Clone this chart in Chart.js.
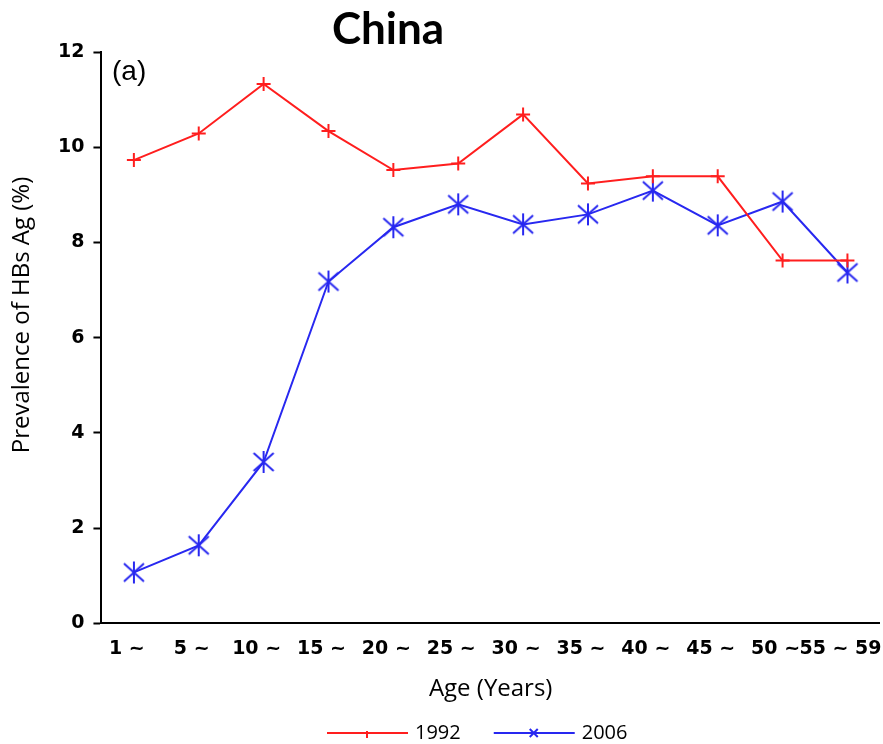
<!DOCTYPE html>
<html>
<head>
<meta charset="utf-8">
<script src="https://cdn.jsdelivr.net/npm/chart.js@4.4.1/dist/chart.umd.min.js"></script>
<style>
  html, body { margin: 0; padding: 0; background: #fff; }
  #wrap { width: 883px; height: 744px; overflow: hidden; }
  #inner { width: 895px; height: 744px; }
</style>
</head>
<body>
<div id="wrap"><div id="inner"><canvas id="lineChart"></canvas></div></div>
<script>
// data
const ageGroups = ["1 ~", "5 ~", "10 ~", "15 ~", "20 ~", "25 ~", "30 ~", "35 ~", "40 ~", "45 ~", "50 ~", "55 ~ 59"];
const prev1992 = [9.73, 10.29, 11.33, 10.34, 9.52, 9.66, 10.69, 9.24, 9.39, 9.39, 7.62, 7.62];
const prev2006 = [1.07, 1.64, 3.39, 7.18, 8.32, 8.80, 8.38, 8.59, 9.09, 8.36, 8.86, 7.37];
const yTicks = [0, 2, 4, 6, 8, 10, 12];

const red = 'rgb(255, 30, 30)';
const blue = 'rgb(40, 40, 240)';
const textFont = '"Open Sans", sans-serif';

// six-armed asterisk used for 2006
function makeStar(size, color) {
  const c = document.createElement('canvas');
  c.width = size; c.height = size;
  const g = c.getContext('2d');
  const m = size / 2;
  g.strokeStyle = color;
  g.lineWidth = 2;
  g.beginPath();
  g.moveTo(m, 1); g.lineTo(m, size - 1);
  g.moveTo(2, 3); g.lineTo(size - 2, size - 3);
  g.moveTo(size - 2, 3); g.lineTo(2, size - 3);
  g.stroke();
  return c;
}
const starImg = makeStar(24, blue);

// title, panel letter, y title and legend
const extras = {
  id: 'extras',
  afterDraw(chart) {
    const ctx = chart.ctx;
    ctx.save();
    ctx.fillStyle = '#000';
    ctx.textAlign = 'center';
    ctx.textBaseline = 'middle';
    ctx.font = 'bold 44px Lato, "Open Sans", sans-serif';
    ctx.fillText('China', 388, 30);

    ctx.textAlign = 'left';
    ctx.font = '28px "Liberation Sans", Arial, sans-serif';
    ctx.fillText('(a)', 112, 72);

    // y axis title
    ctx.save();
    ctx.translate(22, 315);
    ctx.rotate(-Math.PI / 2);
    ctx.textAlign = 'center';
    ctx.font = '24px ' + textFont;
    ctx.fillText('Prevalence of HBs Ag (%)', 0, 0);
    ctx.restore();

    // legend: line, marker, label
    const ly = 733;
    let lx = 327;
    ctx.font = '20px ' + textFont;
    chart.data.datasets.forEach((ds, i) => {
      ctx.strokeStyle = ds.borderColor;
      ctx.lineWidth = 2;
      ctx.beginPath();
      ctx.moveTo(lx, ly); ctx.lineTo(lx + 81, ly);
      const cx = lx + 40;
      if (i === 0) {
        ctx.moveTo(cx, ly - 2); ctx.lineTo(cx, ly + 5);
      } else {
        ctx.moveTo(cx - 4, ly - 4); ctx.lineTo(cx + 4, ly + 4);
        ctx.moveTo(cx + 4, ly - 4); ctx.lineTo(cx - 4, ly + 4);
      }
      ctx.stroke();
      ctx.fillStyle = '#000';
      ctx.textAlign = 'left';
      ctx.fillText(ds.label, lx + 88, ly);
      lx += 88 + ctx.measureText(ds.label).width + 33;
    });
    ctx.restore();
  }
};

const config = {
  type: 'line',
  data: {
    labels: ageGroups,
    datasets: [{
      label: '1992',
      data: prev1992,
      borderColor: red,
      backgroundColor: red,
      borderWidth: 2,
      pointStyle: 'cross',
      pointRadius: 7,
      pointBorderWidth: 2,
      tension: 0
    }, {
      label: '2006',
      data: prev2006,
      borderColor: blue,
      backgroundColor: blue,
      borderWidth: 2,
      pointStyle: starImg,
      pointRadius: 11,
      tension: 0
    }]
  },
  plugins: [extras],
  options: {
    responsive: true,
    maintainAspectRatio: false,
    animation: false,
    layout: { padding: { top: 52, right: 0, left: 49, bottom: 40 } },
    plugins: {
      title: { display: false },
      tooltip: { enabled: false },
      legend: { display: false }
    },
    scales: {
      x: {
        offset: true,
        grid: { display: false },
        border: { display: true, color: '#000', width: 2 },
        ticks: {
          color: '#000',
          maxRotation: 0,
          autoSkip: false,
          padding: 6,
          labelOffset: -7,
          font: { family: '"DejaVu Sans", Verdana, sans-serif', size: 19, weight: 'bold' }
        },
        title: {
          display: true,
          text: 'Age (Years)',
          color: '#000',
          padding: { top: 9, bottom: 0 },
          font: { family: textFont, size: 24 }
        }
      },
      y: {
        min: 0,
        max: 12,
        afterBuildTicks(axis) { axis.ticks = yTicks.map(v => ({ value: v })); },
        grid: { drawOnChartArea: false, drawTicks: true, tickLength: 8, color: '#000', tickWidth: 2 },
        border: { display: true, color: '#000', width: 2 },
        ticks: {
          color: '#000',
          padding: 9,
          font: { family: '"DejaVu Sans", Verdana, sans-serif', size: 19, weight: 'bold' }
        }
      }
    }
  }
};

const myChart = new Chart(document.getElementById('lineChart'), config);
</script>
</body>
</html>
